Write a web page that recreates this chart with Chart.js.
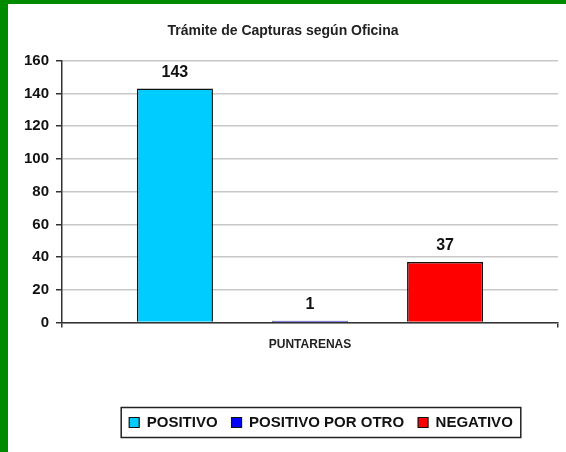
<!DOCTYPE html>
<html>
<head>
<meta charset="utf-8">
<script src="https://cdn.jsdelivr.net/npm/chart.js@4.4.1/dist/chart.umd.min.js"></script>
<style>
    html, body { margin: 0; padding: 0; background: #008a00; }
    .frame {
        position: absolute;
        left: 8px;
        top: 4px;
        width: 558px;
        height: 448px;
        background: #ffffff;
    }
</style>
</head>
<body>
<div class="frame">
    <canvas id="chart" width="558" height="448"></canvas>
</div>
<script>
// Chart data
const categories = ['PUNTARENAS'];
const seriesNames = ['POSITIVO', 'POSITIVO POR OTRO', 'NEGATIVO'];
const positivo = [143];
const positivoPorOtro = [1];
const negativo = [37];
const yTicks = [0, 20, 40, 60, 80, 100, 120, 140, 160];

const FONT = 'Arial, "Liberation Sans", sans-serif';

// value labels above each bar
const valueLabels = {
    id: 'valueLabels',
    afterDatasetsDraw(chart) {
        const ctx = chart.ctx;
        ctx.save();
        ctx.font = 'bold 16px ' + FONT;
        ctx.fillStyle = '#111';
        ctx.textAlign = 'center';
        ctx.textBaseline = 'bottom';
        chart.data.datasets.forEach((ds, i) => {
            chart.getDatasetMeta(i).data.forEach((bar, j) => {
                ctx.fillText(ds.data[j], bar.x, bar.y - 8);
            });
        });
        ctx.restore();
    }
};

// move the legend a bit to the right and draw a box around it
const legendBox = {
    id: 'legendBox',
    afterLayout(chart) {
        chart.legend.left += 38;
        chart.legend.right += 38;
    },
    afterDraw(chart) {
        const boxes = chart.legend.legendHitBoxes;
        if (!boxes || !boxes.length) return;
        const minX = Math.min(...boxes.map(b => b.left));
        const maxX = Math.max(...boxes.map(b => b.left + b.width));
        const cy = boxes[0].top + boxes[0].height / 2;
        const ctx = chart.ctx;
        ctx.save();
        ctx.strokeStyle = '#222';
        ctx.lineWidth = 1.5;
        ctx.strokeRect(minX - 8, cy - 15, maxX - minX + 16, 30);
        ctx.restore();
    }
};

new Chart(document.getElementById('chart'), {
    type: 'bar',
    data: {
        labels: categories,
        datasets: [
            { label: seriesNames[0], data: positivo, backgroundColor: '#00ccff' },
            { label: seriesNames[1], data: positivoPorOtro, backgroundColor: '#0000ff' },
            { label: seriesNames[2], data: negativo, backgroundColor: '#ff0000' }
        ].map(ds => Object.assign(ds, {
            borderColor: '#111',
            borderWidth: 1.5,
            categoryPercentage: 0.817,
            barPercentage: 0.563
        }))
    },
    options: {
        responsive: false,
        animation: false,
        layout: { padding: { left: 0, right: 8, top: 0, bottom: 12 } },
        plugins: {
            title: {
                display: true,
                text: 'Trámite de Capturas según Oficina',
                color: '#222',
                font: { family: FONT, size: 14, weight: 'bold' },
                padding: { top: 19, bottom: 21 }
            },
            legend: {
                position: 'bottom',
                labels: {
                    color: '#111',
                    font: { family: FONT, size: 15, weight: 'bold' },
                    boxWidth: 10,
                    boxHeight: 10,
                    padding: 14,
                    generateLabels(chart) {
                        return chart.data.datasets.map((ds, i) => ({
                            text: ds.label,
                            fillStyle: ds.backgroundColor,
                            strokeStyle: '#111',
                            lineWidth: 1.2,
                            datasetIndex: i,
                            fontColor: '#111'
                        }));
                    }
                }
            },
            tooltip: { enabled: false }
        },
        scales: {
            x: {
                grid: { drawOnChartArea: false, color: '#333', tickLength: 5, lineWidth: 1.5 },
                border: { color: '#333', width: 1.5 },
                ticks: {
                    color: '#222',
                    padding: 10,
                    font: { family: FONT, size: 12, weight: 'bold' }
                },
                afterFit(scale) { scale.height = 78.5; }
            },
            y: {
                min: yTicks[0],
                max: yTicks[yTicks.length - 1],
                afterBuildTicks(scale) { scale.ticks = yTicks.map(v => ({ value: v })); },
                grid: {
                    color: '#c8c8c8',
                    lineWidth: 1.5,
                    tickColor: '#333',
                    tickLength: 6
                },
                border: { color: '#333', width: 1.5 },
                ticks: {
                    color: '#111',
                    padding: 7,
                    font: { family: FONT, size: 15, weight: 'bold' }
                },
                afterFit(scale) { scale.width = 54; }
            }
        }
    },
    plugins: [valueLabels, legendBox]
});
</script>
</body>
</html>
